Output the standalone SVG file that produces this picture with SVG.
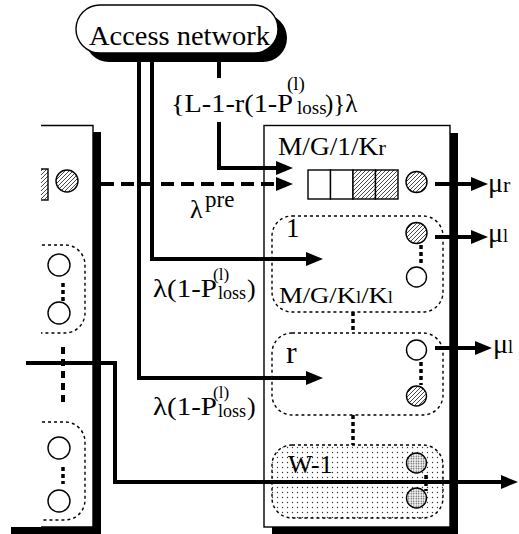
<svg xmlns="http://www.w3.org/2000/svg" width="519" height="534" viewBox="0 0 519 534">
<style>
text{font-family:"Liberation Serif","Times New Roman",serif;fill:#000}
.thin{fill:none;stroke:#000;stroke-width:1.4}
.panel{fill:#fff;stroke:#000;stroke-width:1.4}
.shadow{fill:#000;stroke:none}
.grp{fill:none;stroke:#000;stroke-width:1.4;stroke-dasharray:3 3}
.srvW{fill:#fff;stroke:#000;stroke-width:1.4}
.srvH{fill:url(#hatch);stroke:#000;stroke-width:1.4}
.srvD{fill:url(#dense);stroke:#000;stroke-width:1.4}
.dots{fill:none;stroke:#000;stroke-width:3.5;stroke-dasharray:4 3}
.vdots{fill:none;stroke:#000;stroke-width:4;stroke-dasharray:7 5}
.wire{fill:none;stroke:#000;stroke-width:4}
.arr{fill:none;stroke:#000;stroke-width:4;marker-end:url(#ah)}
.dash{fill:none;stroke:#000;stroke-width:4;stroke-dasharray:13 7;marker-end:url(#ah)}
</style>
<defs>
<pattern id="hatch" patternUnits="userSpaceOnUse" width="4" height="4">
<rect width="4" height="4" fill="#fff"/>
<path d="M-1,1 l2,-2 M0,4 l4,-4 M3,5 l2,-2" stroke="#333" stroke-width="0.9"/>
</pattern>
<pattern id="sparse" patternUnits="userSpaceOnUse" width="5" height="5">
<circle cx="2.5" cy="2.5" r="0.7" fill="#333"/>
</pattern>
<pattern id="dense" patternUnits="userSpaceOnUse" width="2.5" height="2.5">
<rect width="2.5" height="2.5" fill="#fff"/>
<circle cx="1.25" cy="1.25" r="0.75" fill="#444"/>
</pattern>
<marker id="ah" markerUnits="userSpaceOnUse" markerWidth="17" markerHeight="14" refX="7" refY="7" orient="auto">
<path d="M0,0 L17,7 L0,14 z" fill="#000"/>
</marker>
<clipPath id="leftclip"><rect x="41" y="120" width="60" height="410"/></clipPath>
</defs>

<g id="access-network">
<rect x="85" y="14" width="202" height="48" rx="24" ry="24" class="shadow"/>
<rect x="76" y="5" width="202" height="48" rx="24" ry="24" class="panel"/>
<text x="89" y="45" font-size="28" textLength="181" lengthAdjust="spacingAndGlyphs">Access network</text>
</g>

<g id="left-panel">
<rect x="11" y="132" width="90" height="402" class="shadow"/>
<rect x="0" y="125.5" width="93" height="401.5" fill="#fff"/>
<path d="M41,125.5 H93 V527 H41" class="thin"/>
<g clip-path="url(#leftclip)">
<rect x="26" y="169" width="22" height="31" class="srvH"/>
<circle cx="67" cy="181" r="11" class="srvH"/>
<path d="M30,245 H65 A20,20 0 0 1 85,265 V313 A20,20 0 0 1 65,333 H30" class="grp"/>
<circle cx="59" cy="265" r="11" class="srvW"/>
<circle cx="59" cy="313" r="11" class="srvW"/>
<path d="M63,283 V303" class="dots"/>
<path d="M63,347 V402" class="vdots"/>
<path d="M30,422 H65 A20,20 0 0 1 85,442 V500 A20,20 0 0 1 65,520 H30" class="grp"/>
<circle cx="59" cy="448" r="11" class="srvW"/>
<circle cx="59" cy="501" r="11" class="srvW"/>
<path d="M63,467 V484" class="dots"/>
</g>
</g>

<g id="main-panel">
<rect x="272" y="133" width="186" height="401" class="shadow"/>
<rect x="264" y="125.5" width="186" height="401.5" class="panel"/>
</g>

<g id="queue-r">
<text x="278" y="155" font-size="26" textLength="108" lengthAdjust="spacingAndGlyphs">M/G/1/K<tspan font-size="22">r</tspan></text>
<rect x="308" y="170" width="22.5" height="29" class="srvW"/>
<rect x="330.5" y="170" width="22.5" height="29" class="srvW"/>
<rect x="353" y="170" width="22.5" height="29" class="srvH"/>
<rect x="375.5" y="170" width="22.5" height="29" class="srvH"/>
<circle cx="416.5" cy="182" r="10.5" class="srvH"/>
</g>

<g id="group-1">
<rect x="272" y="216" width="171" height="96" rx="20" ry="20" class="grp"/>
<text x="286" y="237" font-size="27">1</text>
<circle cx="416.5" cy="233" r="10.5" class="srvH"/>
<path d="M421,245 V266" class="dots"/>
<circle cx="416.5" cy="277" r="10" class="srvW"/>
<text x="279" y="303" font-size="23" textLength="114" lengthAdjust="spacingAndGlyphs">M/G/K<tspan font-size="16">l</tspan>/K<tspan font-size="16">l</tspan></text>
</g>

<g id="group-r">
<rect x="272" y="333" width="171" height="82" rx="20" ry="20" class="grp"/>
<text x="286" y="363" font-size="32">r</text>
<circle cx="416.5" cy="350" r="10" class="srvW"/>
<path d="M421,362 V385" class="dots"/>
<circle cx="416.5" cy="396" r="10" class="srvH"/>
</g>

<g id="group-w1">
<rect x="272" y="445" width="171" height="73" rx="20" ry="20" fill="url(#sparse)" stroke="#000" stroke-width="1.4" stroke-dasharray="3 3"/>
<text x="288" y="473" font-size="26">W-1</text>
<circle cx="416.5" cy="463" r="10" class="srvD"/>
<path d="M426,475 V491" class="dots" stroke-width="3"/>
<circle cx="416.5" cy="498" r="10" class="srvD"/>
</g>

<g id="connectors">
<path d="M353,312 V333" class="dots"/>
<path d="M353,415 V445" class="dots"/>
<path d="M139,60 V378 H313" class="arr"/>
<path d="M152,60 V259 H313" class="arr"/>
<path d="M219,60 V78" class="wire"/>
<path d="M219,122 V168 H283" class="arr"/>
<path d="M101,184 H283" class="dash"/>
<path d="M26,363 H115 V482 H508" class="arr"/>
<path d="M435,184 H478" class="arr"/>
<path d="M435,237 H478" class="arr"/>
<path d="M435,348 H482" class="arr"/>
</g>

<g id="labels">
<text x="171" y="112" font-size="26" textLength="122" lengthAdjust="spacingAndGlyphs">{L-1-r(1-P</text>
<text x="287" y="90" font-size="19">(l)</text>
<text x="297" y="114" font-size="19">loss</text>
<text x="325" y="112" font-size="25">)}λ</text>
<text x="190" y="218" font-size="26">λ</text>
<text x="205" y="207" font-size="23">pre</text>
<text x="153" y="297" font-size="26" textLength="64" lengthAdjust="spacingAndGlyphs">λ(1-P</text>
<text x="213" y="280" font-size="17">(l)</text>
<text x="218" y="299" font-size="18">loss</text>
<text x="247" y="297" font-size="26">)</text>
<text x="153" y="415" font-size="26" textLength="64" lengthAdjust="spacingAndGlyphs">λ(1-P</text>
<text x="213" y="398" font-size="17">(l)</text>
<text x="218" y="417" font-size="18">loss</text>
<text x="247" y="415" font-size="26">)</text>
<text x="488" y="192" font-size="28">μ<tspan font-size="22">r</tspan></text>
<text x="488" y="242" font-size="28">μ<tspan font-size="18">l</tspan></text>
<text x="493" y="353" font-size="28">μ<tspan font-size="18">l</tspan></text>
</g>
</svg>
